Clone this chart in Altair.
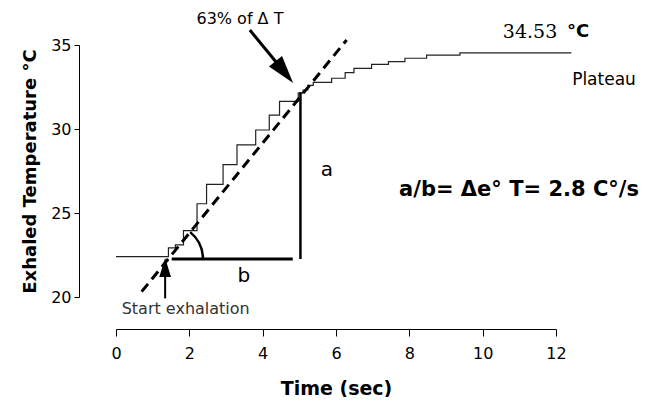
import altair as alt
import pandas as pd

# Staircase temperature trace (step-after)
step_x = [0.0, 1.43, 1.62, 1.84, 2.21, 2.47, 2.92, 3.30, 3.81, 4.18, 4.46, 4.97, 5.10,
          5.23, 5.38, 5.88, 6.25, 6.49, 6.97, 7.43, 7.88, 8.47, 9.38, 12.42]
step_y = [22.40, 22.93, 23.10, 23.95, 25.55, 26.70, 27.88, 29.05, 29.94, 30.83, 31.65, 32.13, 32.32,
          32.60, 32.78, 33.02, 33.35, 33.61, 33.85, 34.01, 34.21, 34.40, 34.53, 34.53]

# Dashed tangent line
tan_x = [0.70, 6.29]
tan_y = [20.32, 35.30]

# Construction lines a (vertical) and b (horizontal)
a_x = [5.03]
a_y = [22.26]
a_y2 = [32.2]
b_x = [1.52]
b_x2 = [4.82]
b_y = [22.26]

# Angle arc centre
arc_x = [1.424]
arc_y = [22.26]

# Arrow shafts and heads
shaft_x = [3.65, 1.34]
shaft_y = [35.89, 19.92]
shaft_x2 = [4.59, 1.34]
shaft_y2 = [33.39, 21.75]
head_x = [4.59, 1.34]
head_y = [33.39, 21.75]

# Annotation labels
lab_a = ["a", "b"]
lab_a_x = [5.75, 3.49]
lab_a_y = [27.56, 21.25]

x_ticks = [0, 2, 4, 6, 8, 10, 12]
y_ticks = [20, 25, 30, 35]

FONT = "DejaVu Sans"

def X(field="x"):
    return alt.X(f"{field}:Q", scale=alt.Scale(domain=[0, 12], nice=False, zero=False),
                 axis=alt.Axis(values=x_ticks, offset=32, tickSize=7, labelFont=FONT, labelFontSize=16,
                               labelColor="black", titleFont=FONT, titleFontSize=19,
                               titleFontWeight="bold", titleColor="black", domainColor="black",
                               tickColor="black", grid=False, labelPadding=9, titlePadding=18,
                               labelFlush=False),
                 title="Time (sec)")

def Y(field="y"):
    return alt.Y(f"{field}:Q", scale=alt.Scale(domain=[20, 35], nice=False, zero=False),
                 axis=alt.Axis(values=y_ticks, offset=37, tickSize=5, labelFont=FONT, labelFontSize=16,
                               labelColor="black", titleFont=FONT, titleFontSize=18,
                               titleFontWeight="bold", titleColor="black", domainColor="black",
                               tickColor="black", grid=False, labelPadding=3, titlePadding=11),
                 title="Exhaled Temperature °C")

stairs = alt.Chart(pd.DataFrame({"x": step_x, "y": step_y})).mark_line(
    interpolate="step-after", color="#222222", strokeWidth=1.2).encode(x=X(), y=Y())

tangent = alt.Chart(pd.DataFrame({"x": tan_x, "y": tan_y})).mark_line(
    color="black", strokeWidth=3, strokeDash=[10, 6]).encode(x=X(), y=Y())

line_a = alt.Chart(pd.DataFrame({"x": a_x, "y": a_y, "y2": a_y2})).mark_rule(
    color="black", strokeWidth=2.5).encode(x=X(), y=Y(), y2="y2:Q")

line_b = alt.Chart(pd.DataFrame({"x": b_x, "x2": b_x2, "y": b_y})).mark_rule(
    color="black", strokeWidth=3).encode(x=X(), x2="x2:Q", y=Y())

arc = alt.Chart(pd.DataFrame({"x": arc_x, "y": arc_y})).mark_arc(
    innerRadius=33.5, outerRadius=36, color="black").encode(
    x=X(), y=Y(), theta=alt.value(0.684), theta2=alt.value(1.5708))

shafts = alt.Chart(pd.DataFrame({"x": shaft_x, "y": shaft_y, "x2": shaft_x2, "y2": shaft_y2,
                                 "w": [3, 2]})).mark_rule(color="black").encode(
    x=X(), y=Y(), x2="x2:Q", y2="y2:Q",
    strokeWidth=alt.StrokeWidth("w:Q", scale=None, legend=None))

head1 = alt.Chart(pd.DataFrame({"x": head_x[:1], "y": head_y[:1]})).mark_point(
    shape="M0,-1L-0.6,1L0.6,1Z", filled=True, color="black", opacity=1, size=784, angle=141
).encode(x=X(), y=Y())

head2 = alt.Chart(pd.DataFrame({"x": head_x[1:], "y": head_y[1:]})).mark_point(
    shape="M0,-1L-0.62,1L0.62,1Z", filled=True, color="black", opacity=1, size=361, angle=0
).encode(x=X(), y=Y())

ab_text = alt.Chart(pd.DataFrame({"x": lab_a_x, "y": lab_a_y, "t": lab_a})).mark_text(
    font=FONT, fontSize=20, color="black", align="center", baseline="middle").encode(
    x=X(), y=Y(), text="t:N")

def note(txt, x, y, size, align="left", weight="normal", font=FONT, color="black"):
    return alt.Chart(pd.DataFrame({"x": [x], "y": [y], "t": [txt]})).mark_text(
        font=font, fontSize=size, fontWeight=weight, color=color, align=align,
        baseline="middle").encode(x=X(), y=Y(), text="t:N")

t63 = note("63% of Δ T", 3.38, 36.55, 16, align="center")
tstart = note("Start exhalation", 0.155, 19.29, 16, color="#333333")
tval = note("34.53", 10.55, 35.77, 19, font="DejaVu Serif")
tdeg = note("°C", 12.30, 35.77, 18, weight="bold")
tplat = note("Plateau", 12.44, 32.92, 17)
tform = note("a/b= Δe° T= 2.8 C°/s", 7.72, 26.37, 21, weight="bold")

chart = alt.layer(stairs, tangent, line_a, line_b, arc, shafts, head1, head2, ab_text,
                  t63, tstart, tval, tdeg, tplat, tform).properties(
    width=440, height=252,
    autosize=alt.AutoSizeParams(type="none"),
    padding={"left": 108, "top": 37, "right": 101, "bottom": 100},
    background="white",
).configure_view(strokeWidth=0)

chart.save("out.html", embed_options={"renderer": "svg", "actions": False})
